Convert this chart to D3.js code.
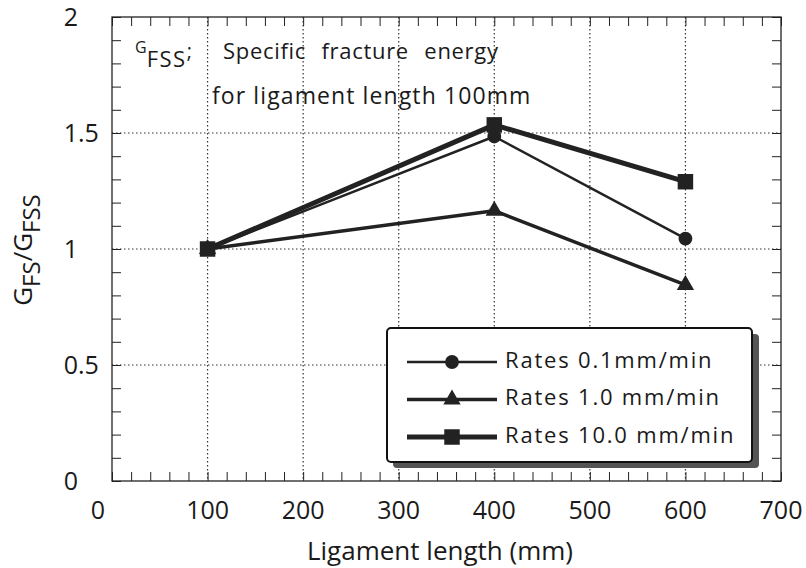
<!DOCTYPE html>
<html>
<head>
<meta charset="utf-8">
<script src="https://cdn.jsdelivr.net/npm/d3@7"></script>
<style>
  body { margin: 0; background: #fff; }
  svg text { font-family: "Open Sans", sans-serif; fill: #1a1a1a; }
</style>
</head>
<body>
<script>
// data
var ligament = [100, 400, 600];
var rate01 = [1.0, 1.485, 1.045];
var rate1 = [1.0, 1.165, 0.845];
var rate10 = [1.0, 1.535, 1.29];
var seriesNames = ["Rates 0.1mm/min", "Rates 1.0 mm/min", "Rates 10.0 mm/min"];
var xTicks = [0, 100, 200, 300, 400, 500, 600, 700];
var yTicks = [0, 0.5, 1, 1.5, 2];

var width = 806, height = 568;
var plotLeft = 112, plotRight = 781, plotTop = 17, plotBottom = 481;

var svg = d3.select('body').append('svg')
    .attr('width', width)
    .attr('height', height);

var x = d3.scaleLinear().domain([0, 700]).range([plotLeft, plotRight]);
var y = d3.scaleLinear().domain([0, 2]).range([plotBottom, plotTop]);

// grid (dotted)
svg.append('g').selectAll('line')
    .data(xTicks.filter(d => d > 0 && d < 700))
    .enter().append('line')
    .attr('x1', d => x(d)).attr('x2', d => x(d))
    .attr('y1', plotTop).attr('y2', plotBottom)
    .attr('stroke', '#333').attr('stroke-width', 1.2)
    .attr('stroke-dasharray', '1.5,2.5');
svg.append('g').selectAll('line')
    .data(yTicks.filter(d => d > 0 && d < 2))
    .enter().append('line')
    .attr('x1', plotLeft).attr('x2', plotRight)
    .attr('y1', d => y(d)).attr('y2', d => y(d))
    .attr('stroke', '#333').attr('stroke-width', 1.2)
    .attr('stroke-dasharray', '1.5,2.5');

// minor ticks on all four sides, pointing inward
var xMinor = d3.range(0, 701, 20);
var yMinor = d3.range(0, 2.001, 0.1);
function tickAxis(axis, pos) {
  var g = svg.append('g').attr('transform', pos).call(axis);
  g.selectAll('text').remove();
  g.select('.domain').remove();
  g.selectAll('line').attr('stroke', '#222').attr('stroke-width', 1);
}
tickAxis(d3.axisBottom(x).tickValues(xMinor).tickSize(-9), 'translate(0,' + plotBottom + ')');
tickAxis(d3.axisTop(x).tickValues(xMinor).tickSize(-9), 'translate(0,' + plotTop + ')');
tickAxis(d3.axisLeft(y).tickValues(yMinor).tickSize(-9), 'translate(' + plotLeft + ',0)');
tickAxis(d3.axisRight(y).tickValues(yMinor).tickSize(-9), 'translate(' + plotRight + ',0)');

// frame
svg.append('rect')
    .attr('x', plotLeft).attr('y', plotTop)
    .attr('width', plotRight - plotLeft).attr('height', plotBottom - plotTop)
    .attr('fill', 'none').attr('stroke', '#222').attr('stroke-width', 1.3);

// tick labels
svg.append('g').selectAll('text')
    .data(xTicks)
    .enter().append('text')
    .attr('x', d => x(d) - (d === 0 ? 14 : 0))
    .attr('y', plotBottom + 31)
    .attr('text-anchor', 'middle')
    .attr('dominant-baseline', 'middle')
    .attr('font-size', 25)
    .text(d => d);
// y labels are aligned on the decimal point
var yLab = svg.append('g').selectAll('g')
    .data(yTicks)
    .enter().append('g');
yLab.append('text')
    .attr('x', 78).attr('y', d => y(d) + 2)
    .attr('text-anchor', 'end')
    .attr('dominant-baseline', 'middle')
    .attr('font-size', 25)
    .text(d => Math.floor(d));
yLab.append('text')
    .attr('x', 78).attr('y', d => y(d) + 2)
    .attr('dominant-baseline', 'middle')
    .attr('font-size', 25)
    .text(d => d % 1 ? String(d).slice(String(d).indexOf('.')) : '');

// axis titles
svg.append('text')
    .attr('x', 440).attr('y', 553)
    .attr('text-anchor', 'middle')
    .attr('dominant-baseline', 'middle')
    .attr('font-size', 26)
    .text('Ligament length (mm)');

var yt = svg.append('text')
    .attr('transform', 'translate(32,250) rotate(-90)')
    .attr('text-anchor', 'middle')
    .attr('font-size', 26);
yt.append('tspan').text('G');
yt.append('tspan').attr('dy', 8).attr('font-size', 24).text('FS');
yt.append('tspan').attr('dy', -8).text('/G');
yt.append('tspan').attr('dy', 8).attr('font-size', 24).text('FSS');

// annotation
var ann = svg.append('text').attr('x', 135).attr('y', 53).attr('font-size', 16);
ann.append('tspan').text('G');
ann.append('tspan').attr('dy', 14).attr('font-size', 22).attr('letter-spacing', 1.5).text('FSS');
ann.append('tspan').attr('dy', -9).attr('font-size', 20).text(';');
svg.append('text').attr('x', 223).attr('y', 59).attr('font-size', 22)
    .attr('letter-spacing', 0.7).attr('word-spacing', 9)
    .text('Specific fracture energy');
svg.append('text').attr('x', 212).attr('y', 104).attr('font-size', 23)
    .attr('letter-spacing', 1.1)
    .text('for ligament length 100mm');

// series
var series = [
  {name: seriesNames[0], values: rate01, width: 2.5, marker: 'circle'},
  {name: seriesNames[1], values: rate1, width: 3.5, marker: 'triangle'},
  {name: seriesNames[2], values: rate10, width: 5, marker: 'square'}
];
var ink = '#222';
var line = d3.line().x(d => x(d[0])).y(d => y(d[1]));
var symbols = {
  circle: d3.symbol().type(d3.symbolCircle).size(150),
  triangle: d3.symbol().type(d3.symbolTriangle).size(130),
  square: d3.symbol().type(d3.symbolSquare).size(240)
};

series.forEach(function(s) {
  var pts = ligament.map((l, i) => [l, s.values[i]]);
  svg.append('path')
      .datum(pts)
      .attr('d', line)
      .attr('fill', 'none')
      .attr('stroke', ink)
      .attr('stroke-width', s.width)
      .attr('stroke-linejoin', 'round');
  svg.append('g').selectAll('path')
      .data(pts)
      .enter().append('path')
      .attr('d', symbols[s.marker])
      .attr('transform', d => 'translate(' + x(d[0]) + ',' + y(d[1]) + ')')
      .attr('fill', ink);
});

// legend
var lg = svg.append('g');
lg.append('rect')
    .attr('x', 393).attr('y', 334).attr('width', 366).attr('height', 134)
    .attr('rx', 4).attr('fill', '#555');
lg.append('rect')
    .attr('x', 387).attr('y', 328).attr('width', 365).attr('height', 134)
    .attr('rx', 4).attr('fill', '#fff').attr('stroke', '#111').attr('stroke-width', 2);

var legendY = d3.scalePoint().domain(seriesNames).range([362, 437]);
series.forEach(function(s) {
  var ly = legendY(s.name);
  lg.append('line')
      .attr('x1', 407).attr('x2', 497)
      .attr('y1', ly).attr('y2', ly)
      .attr('stroke', ink).attr('stroke-width', s.width);
  lg.append('path')
      .attr('d', symbols[s.marker])
      .attr('transform', 'translate(452,' + ly + ')')
      .attr('fill', ink);
  lg.append('text')
      .attr('x', 505).attr('y', ly)
      .attr('dominant-baseline', 'middle')
      .attr('font-size', 22)
      .attr('letter-spacing', 1.8)
      .text(s.name);
});
</script>
</body>
</html>
